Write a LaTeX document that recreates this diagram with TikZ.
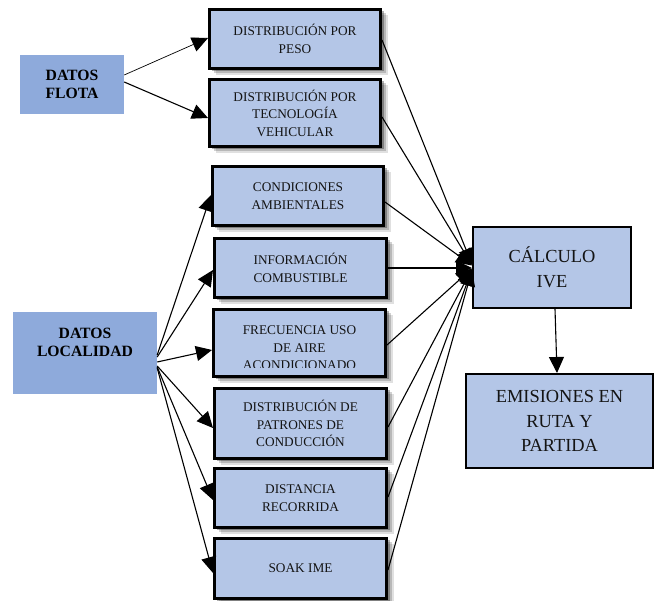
\documentclass[tikz,border=0pt]{standalone}
\usepackage{fontspec}
\setmainfont{Liberation Serif}
\usetikzlibrary{arrows.meta,shadows,calc}
\definecolor{lightb}{HTML}{B4C6E7}
\definecolor{darkb}{HTML}{8EAADB}
\begin{document}
\begin{tikzpicture}[x=1pt,y=-1pt,
  midbox/.style={draw=black, line width=2.8pt, fill=lightb, inner sep=0pt,
    minimum width=171.2pt, align=center,
    font=\fontsize{13.3}{17.5}\selectfont, text=black!92,
    drop shadow={shadow xshift=7pt,shadow yshift=-6pt,opacity=0.12,fill=black},
    drop shadow={shadow xshift=5pt,shadow yshift=-4pt,opacity=0.18,fill=black},
    drop shadow={shadow xshift=3pt,shadow yshift=-2pt,opacity=0.30,fill=black}},
  boxtext/.style={align=center, inner sep=0pt, font=\fontsize{13.3}{17.5}\selectfont, text=black!92},
  srcbox/.style={fill=darkb, inner sep=0pt},
  srctext/.style={align=center, inner sep=0pt, font=\fontsize{15.7}{18}\selectfont\bfseries, text=black},
  bigbox/.style={draw=black, line width=2.4pt, fill=lightb, inner sep=0pt, align=center,
    font=\fontsize{18.4}{24.7}\selectfont, text=black!92},
  conn/.style={draw=black, line width=1.1pt, -{Triangle[length=16pt,width=15pt]}}
]
\useasboundingbox (0,0) rectangle (660,601);

% source boxes
\node[srcbox, minimum width=104pt, minimum height=59pt, srctext] (flota) at (72,84.5) {DATOS\\FLOTA};
\node[srcbox, minimum width=144pt, minimum height=82pt] (local) at (85,353) {};
\node[srctext] (localtxt) at (85,342) {DATOS\\LOCALIDAD};

% middle boxes
\node[midbox, minimum height=59.2pt] (b1) at (295,39) {DISTRIBUCIÓN POR\\PESO};
\node[midbox, minimum height=67.2pt] (b2) at (295,113) {DISTRIBUCIÓN POR\\TECNOLOGÍA\\VEHICULAR};
\node[midbox, minimum height=59.2pt] (b3) at (298,196) {CONDICIONES\\AMBIENTALES};
\node[midbox, minimum width=172.2pt, minimum height=59.2pt] (b4) at (300.5,268) {INFORMACIÓN\\COMBUSTIBLE};
\node[midbox, minimum width=172.2pt, minimum height=67.2pt] (b5) at (299.5,343) {};
\begin{scope}
  \clip (b5.north west) rectangle ($(b5.south east)+(0,-10.5)$);
  \node[boxtext] (t5) at ($(b5.center)+(0,5)$) {FRECUENCIA USO\\DE AIRE\\ACONDICIONADO};
\end{scope}
\node[midbox, minimum width=172.2pt, minimum height=70.2pt] (b6) at (300.5,423.5) {DISTRIBUCIÓN DE\\PATRONES DE\\CONDUCCIÓN};
\node[midbox, minimum width=172.2pt, minimum height=59.2pt] (b7) at (300.5,498) {DISTANCIA\\RECORRIDA};
\node[midbox, minimum width=172.2pt, minimum height=60.2pt] (b8) at (300.5,568.5) {SOAK IME};

% right boxes
\node[bigbox, minimum width=157.6pt, minimum height=80.6pt] (calc) at (552,267.5) {CÁLCULO\\IVE};
\node[bigbox, minimum width=186.6pt, minimum height=93.6pt] (emis) at (559.5,421) {EMISIONES EN\\RUTA Y\\PARTIDA};

% connectors from DATOS FLOTA
\draw[conn, line width=0.7pt] ($(flota.east)+(0,-9.5)$) -- ($(b1.west)+(0,-1)$);
\draw[conn] ($(flota.east)+(0,-2.5)$) -- ($(b2.west)+(0,5)$);

% connectors from DATOS LOCALIDAD
\draw[conn] ($(local.east)+(0,2)$) -- ($(b3.west)+(0,-1)$);
\draw[conn] ($(local.east)+(0,4)$) -- ($(b4.west)+(0,2)$);
\draw[conn] ($(local.east)+(0,9)$) -- ($(b5.west)+(0,7)$);
\draw[conn] ($(local.east)+(0,13)$) -- ($(b6.west)+(0,4.5)$);
\draw[conn] ($(local.east)+(0,14)$) -- ($(b7.west)+(0,2)$);
\draw[conn] ($(local.east)+(0,15)$) -- ($(b8.west)+(0,4.5)$);

% connectors to CALCULO IVE
\draw[conn] ($(b1.east)+(0,1)$) -- ($(calc.west)+(0,-3)$);
\draw[conn] ($(b2.east)+(0,4)$) -- ($(calc.west)+(0,-2.5)$);
\draw[conn] ($(b3.east)+(0,6)$) -- ($(calc.west)+(0,-2)$);
\draw[conn] (b4.east) -- ($(calc.west)+(0,0.5)$);
\draw[conn] ($(b5.east)+(0,2)$) -- ($(calc.west)+(0,1)$);
\draw[conn] ($(b6.east)+(0,3.5)$) -- ($(calc.west)+(0,1.5)$);
\draw[conn] ($(b7.east)+(0,-1)$) -- ($(calc.west)+(0,2)$);
\draw[conn] ($(b8.east)+(0,1.5)$) -- ($(calc.west)+(0,2.5)$);

% CALCULO -> EMISIONES
\draw[conn] ($(calc.south)+(3,0)$) -- ($(emis.north)+(-2.5,0)$);
\end{tikzpicture}
\end{document}
